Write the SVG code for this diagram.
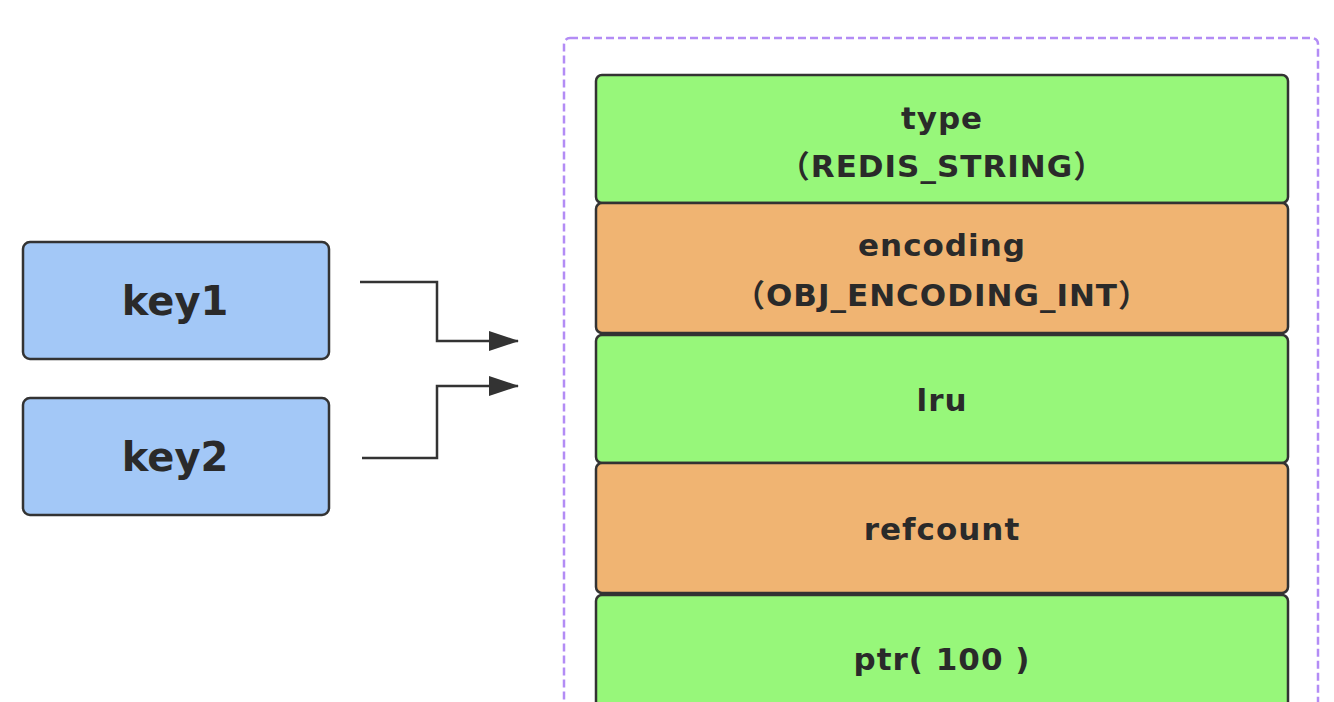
<svg xmlns="http://www.w3.org/2000/svg" width="1334" height="702" viewBox="0 0 1334 702">
<defs>
<marker id="arr" markerWidth="30" markerHeight="20" refX="29" refY="10" orient="auto" markerUnits="userSpaceOnUse">
<path d="M0,0 L30,10 L0,20 Z" fill="#333"/>
</marker>
<style>
.key{fill:#a3c8f7;stroke:#333;stroke-width:2.5}
.g{fill:#97f77a;stroke:#333;stroke-width:2.5}
.o{fill:#f0b472;stroke:#333;stroke-width:2.5}
.t{font-family:"DejaVu Sans","Noto Sans CJK SC",sans-serif;font-weight:bold;fill:#2a2a2a;text-anchor:middle}
.kt{font-size:40px}
.st{font-size:31px;letter-spacing:1px}
.conn{fill:none;stroke:#333;stroke-width:2.5}
</style>
</defs>
<rect width="1334" height="702" fill="#ffffff"/>
<rect id="container" x="564" y="38" width="754" height="700" rx="6" fill="none" stroke="#b38cf5" stroke-width="2.5" stroke-dasharray="8,4"/>
<g id="key1"><rect class="key" x="23" y="242" width="306" height="117" rx="7"/><text class="t kt" x="175" y="315">key1</text></g>
<g id="key2"><rect class="key" x="23" y="398" width="306" height="117" rx="7"/><text class="t kt" x="175" y="471">key2</text></g>
<g id="type"><rect class="g" x="596" y="75" width="692" height="128" rx="6"/><text class="t st" x="942" y="129">type</text><text class="t st" x="942" y="177">（REDIS_STRING）</text></g>
<g id="encoding"><rect class="o" x="596" y="203" width="692" height="130" rx="6"/><text class="t st" x="942" y="256">encoding</text><text class="t st" x="942" y="306">（OBJ_ENCODING_INT）</text></g>
<g id="lru"><rect class="g" x="596" y="335" width="692" height="128" rx="6"/><text class="t st" x="942" y="411">lru</text></g>
<g id="refcount"><rect class="o" x="596" y="463" width="692" height="130" rx="6"/><text class="t st" x="942" y="540">refcount</text></g>
<g id="ptr"><rect class="g" x="596" y="595" width="692" height="140" rx="6"/><text class="t st" x="942" y="670">ptr( 100 )</text></g>
<g id="connectors">
<path class="conn" d="M360,282 H437 V341 H518" marker-end="url(#arr)"/>
<path class="conn" d="M362,458 H437 V386 H518" marker-end="url(#arr)"/>
</g>
</svg>
